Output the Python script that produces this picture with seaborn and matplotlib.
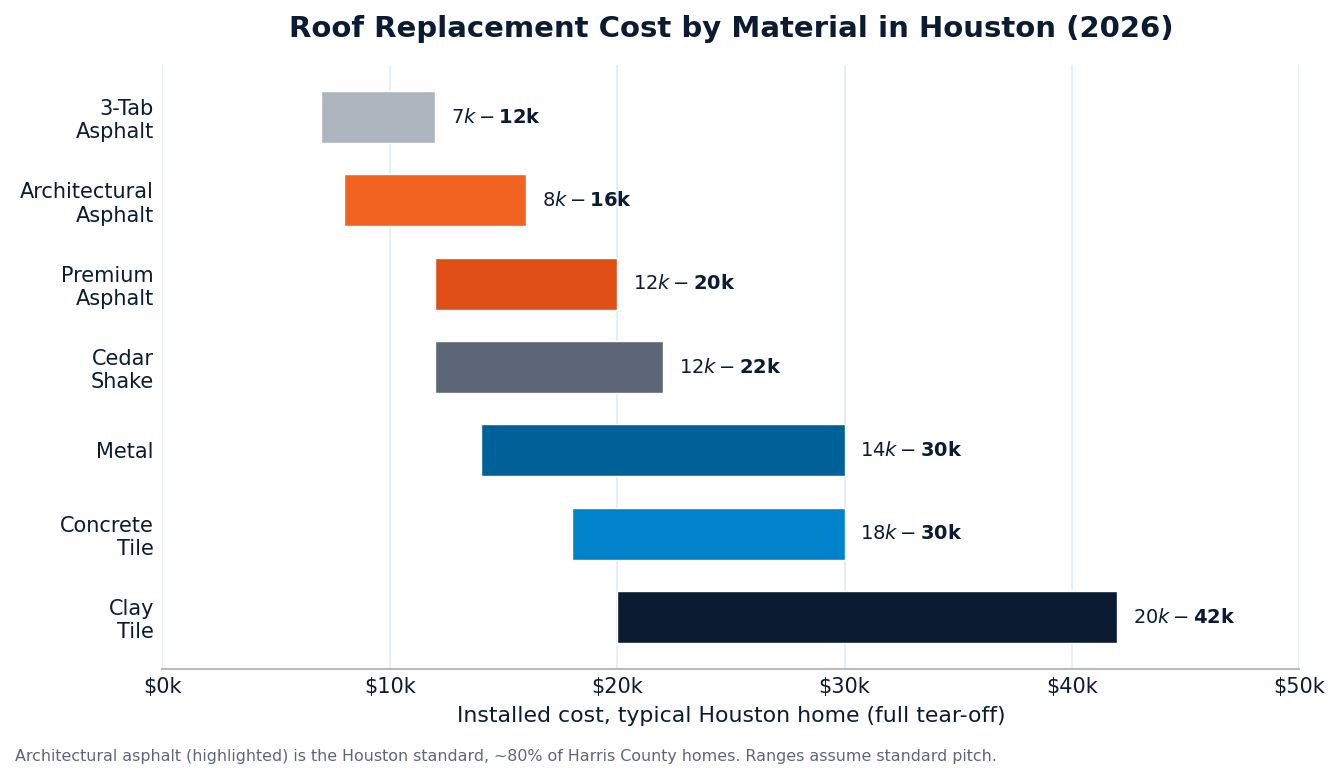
import matplotlib
matplotlib.use('Agg')

import matplotlib.pyplot as plt
import seaborn as sns

# ========== DATA ==========
materials = ["3-Tab\nAsphalt", "Architectural\nAsphalt", "Premium\nAsphalt", "Cedar\nShake",
             "Metal", "Concrete\nTile", "Clay\nTile"]
low_k = [7, 8, 12, 12, 14, 18, 20]
high_k = [12, 16, 20, 22, 30, 30, 42]
colors = ["#adb5bf", "#f26322", "#df4e17", "#5d6676", "#006198", "#0083ca", "#0b1b31"]
xticks_k = [0, 10, 20, 30, 40, 50]

# ========== STYLE ==========
sns.set_theme(style="white")
plt.rcParams['font.family'] = ['DejaVu Sans']
navy = "#0b1b31"

fig, ax = plt.subplots(figsize=(13.41, 7.78), dpi=100)
fig.subplots_adjust(left=0.121, right=0.969, top=0.917, bottom=0.14)

ypos = list(range(len(materials)))
spans = [h - l for l, h in zip(low_k, high_k)]
ax.barh(ypos, spans, left=low_k, height=0.625, color=colors, zorder=3)

for y, l, h in zip(ypos, low_k, high_k):
    ax.text(h + 0.7, y, f"${l}k - ${h}k", va="center", ha="left",
            fontsize=14, fontweight="bold", color=navy)

ax.set_xlim(0, 50)
ax.set_ylim(len(materials) - 0.375, -0.63)
ax.set_yticks(ypos)
ax.set_yticklabels(materials, fontsize=15, color=navy)
ax.set_xticks(xticks_k)
ax.set_xticklabels([f"${v}k" for v in xticks_k], fontsize=15, color=navy)
ax.tick_params(axis="both", length=0, pad=6)

ax.grid(axis="x", color="#e2ecf4", linewidth=1.2, zorder=0)
ax.grid(axis="y", visible=False)
for s in ["top", "right", "left"]:
    ax.spines[s].set_visible(False)
ax.spines["bottom"].set_color("#b4bcc8")
ax.spines["bottom"].set_linewidth(1.5)

ax.set_title("Roof Replacement Cost by Material in Houston (2026)",
             fontsize=21, fontweight="bold", color=navy, pad=19.5)
ax.set_xlabel("Installed cost, typical Houston home (full tear-off)", fontsize=15.8,
              color=navy, labelpad=6)

fig.text(0.011, 0.028, "Architectural asphalt (highlighted) is the Houston standard, "
         "~80% of Harris County homes. Ranges assume standard pitch.",
         fontsize=11.4, color="#5d6676", ha="left", va="center")

fig.savefig("out.png", dpi=100)
